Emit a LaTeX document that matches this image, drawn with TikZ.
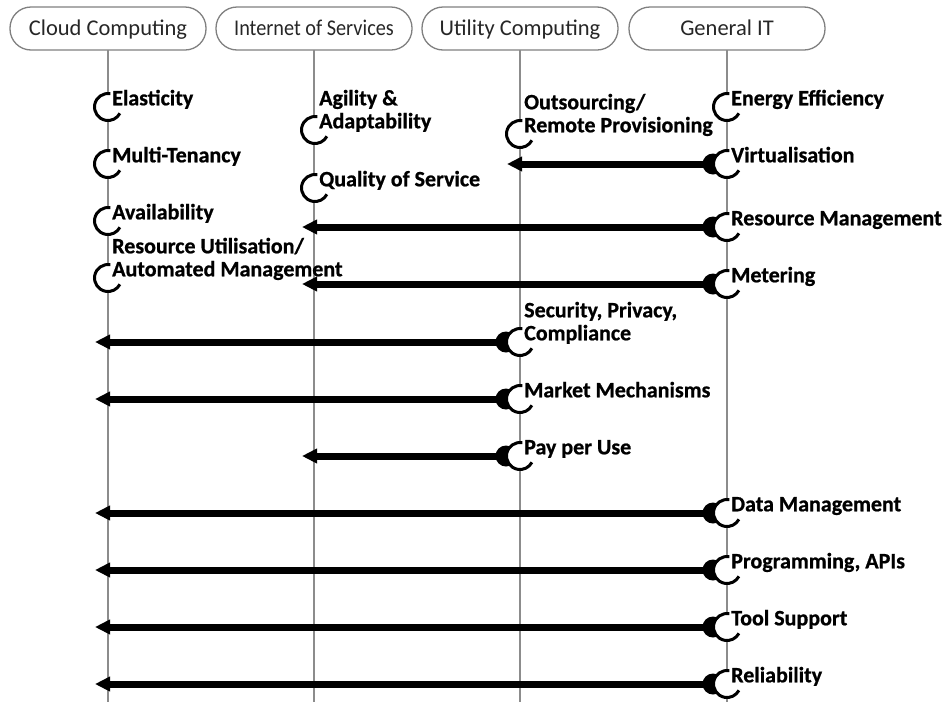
\documentclass[tikz,border=0pt]{standalone}
\usepackage{fontspec}
\setmainfont{Carlito}[BoldFeatures={FakeBold=0.8}]
\usetikzlibrary{arrows.meta,calc}
\begin{document}
\begin{tikzpicture}[x=1pt,y=1pt,
 hdr/.style={draw=black!50, line width=1.3pt, rounded corners=21pt, minimum width=196pt, minimum height=43pt, inner sep=0pt, text height=17pt, text depth=2.5pt, font=\fontsize{22.5}{26}\selectfont, text=black!85},
 life/.style={draw=black!45, line width=2pt},
 lbl/.style={anchor=south west, inner sep=0pt, text depth=0pt, align=left, font=\bfseries\fontsize{22}{23}\selectfont},
 arr/.style={line width=7pt, -{Triangle[length=15pt,width=14pt]}},
 prov/.pic={\fill[white] (0,0) circle (12.5pt); \draw[line width=3pt] (80:13.5pt) arc[start angle=80,end angle=332,radius=13.5pt];},
 req/.pic={\fill (-14pt,0) circle (10.5pt); \fill[white] (0,0) circle (12.5pt); \draw[line width=3pt] (80:13.5pt) arc[start angle=80,end angle=332,radius=13.5pt];}
]
\useasboundingbox (0,0) rectangle (949,-702);
% headers
\node[hdr] (cc)  at (108,-28.5) {Cloud Computing};
\node[hdr] (ios) at (314,-28.5) {\scalebox{0.9}[1]{Internet of Services}};
\node[hdr] (uc)  at (520,-28.5) {Utility Computing};
\node[hdr] (git) at (727,-28.5) {General IT};
% lifelines
\foreach \h in {cc,ios,uc,git}{\draw[life] ([yshift=0.6pt]\h.south) -- (\h.south |- 0,-702);}
% anchor points
\coordinate (elast) at (108,-107);
\coordinate (multi) at (108,-164);
\coordinate (avail) at (108,-221);
\coordinate (resut) at (108,-278);
\coordinate (agil)  at (315,-130);
\coordinate (qos)   at (315,-188);
\coordinate (outs)  at (520,-134);
\coordinate (secu)  at (520,-342);
\coordinate (mark)  at (520,-399);
\coordinate (pay)   at (520,-456);
\coordinate (ener)  at (727,-107);
\coordinate (virt)  at (727,-164);
\coordinate (resm)  at (727,-227);
\coordinate (mete)  at (727,-284);
\coordinate (datm)  at (727,-513);
\coordinate (prog)  at (727,-570);
\coordinate (tool)  at (727,-627);
\coordinate (reli)  at (727,-684);
% arrows
\draw[arr] (virt) -- ($(uc.south |- virt)+(-13,0)$);
\draw[arr] (resm) -- ($(ios.south |- resm)+(-12,0)$);
\draw[arr] (mete) -- ($(ios.south |- mete)+(-12,0)$);
\draw[arr] (secu) -- ($(cc.south |- secu)+(-13,0)$);
\draw[arr] (mark) -- ($(cc.south |- mark)+(-13,0)$);
\draw[arr] (pay)  -- ($(ios.south |- pay)+(-12,0)$);
\draw[arr] (datm) -- ($(cc.south |- datm)+(-13,0)$);
\draw[arr] (prog) -- ($(cc.south |- prog)+(-13,0)$);
\draw[arr] (tool) -- ($(cc.south |- tool)+(-13,0)$);
\draw[arr] (reli) -- ($(cc.south |- reli)+(-13,0)$);
% symbols
\foreach \p in {elast,multi,avail,resut,agil,qos,outs,ener}{\pic at (\p) {prov};}
\foreach \p in {secu,mark,pay,virt,resm,mete,datm,prog,tool,reli}{\pic at (\p) {req};}
% labels
\node[lbl] (l1)  at ($(elast)+(4,1.5)$) {Elasticity};
\node[lbl] (l2)  at ($(multi)+(4,1.5)$) {Multi-Tenancy};
\node[lbl] (l3)  at ($(avail)+(4,1.5)$) {Availability};
\node[lbl] (l4)  at ($(resut)+(4,1.5)$) {Resource Utilisation/\\Automated Management};
\node[lbl] (l5)  at ($(agil)+(4,1.5)$)  {Agility \&\\Adaptability};
\node[lbl] (l6)  at ($(qos)+(4,1.5)$)   {Quality of Service};
\node[lbl] (l7)  at ($(outs)+(4,1.5)$)  {Outsourcing/\\Remote Provisioning};
\node[lbl] (l8)  at ($(secu)+(4,1.5)$)  {Security, Privacy,\\Compliance};
\node[lbl] (l9)  at ($(mark)+(4,1.5)$)  {Market Mechanisms};
\node[lbl] (l10) at ($(pay)+(4,1.5)$)   {Pay per Use};
\node[lbl] (l11) at ($(ener)+(4,1.5)$)  {Energy Efficiency};
\node[lbl] (l12) at ($(virt)+(4,1.5)$)  {Virtualisation};
\node[lbl] (l13) at ($(resm)+(4,1.5)$)  {Resource Management};
\node[lbl] (l14) at ($(mete)+(4,1.5)$)  {Metering};
\node[lbl] (l15) at ($(datm)+(4,1.5)$)  {Data Management};
\node[lbl] (l16) at ($(prog)+(4,1.5)$)  {Programming, APIs};
\node[lbl] (l17) at ($(tool)+(4,1.5)$)  {Tool Support};
\node[lbl] (l18) at ($(reli)+(4,1.5)$)  {Reliability};
\end{tikzpicture}
\end{document}
